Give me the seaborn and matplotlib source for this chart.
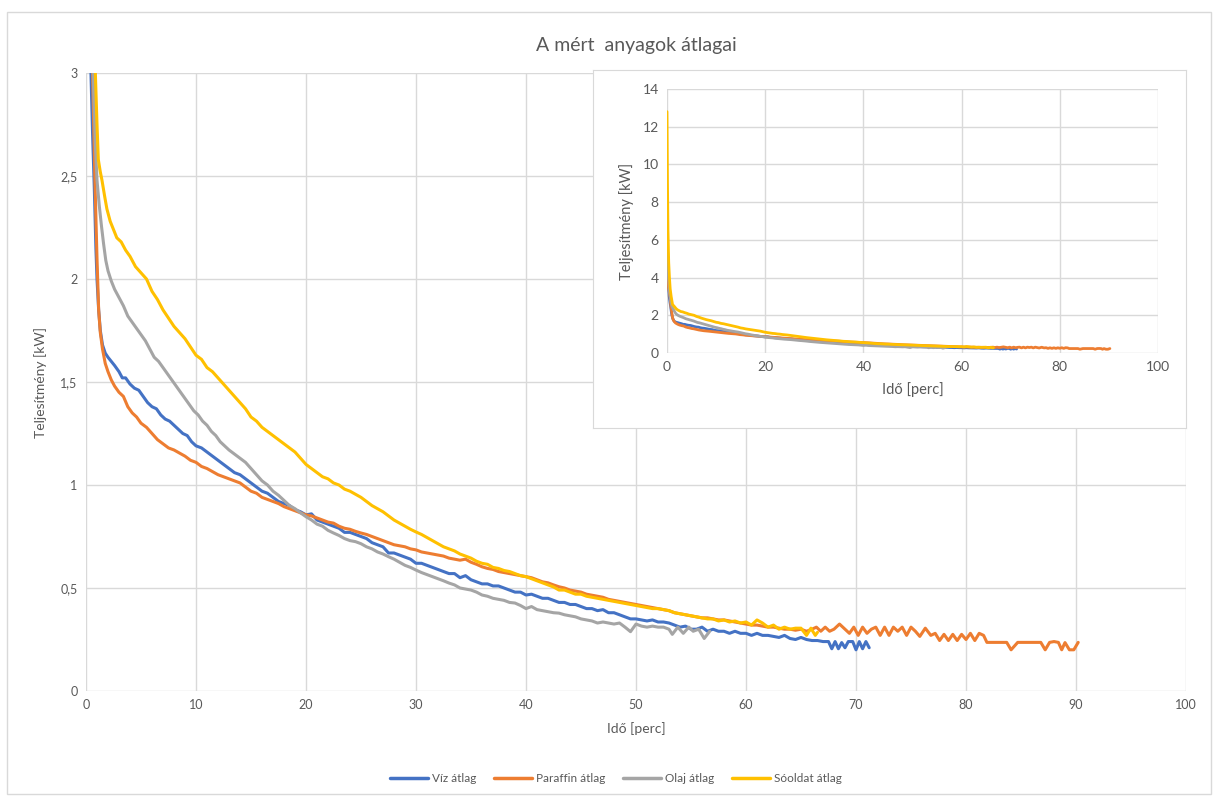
import matplotlib
matplotlib.use("Agg")
import matplotlib.pyplot as plt
import seaborn as sns
import pandas as pd
from matplotlib.lines import Line2D
from matplotlib.patches import Rectangle
from matplotlib.ticker import FuncFormatter

# --- data (time in minutes, power in kW) ---
viz_t = [0, 0.15, 0.3, 0.45, 0.6, 0.75, 0.9, 1.0, 1.15, 1.3, 1.5, 1.75, 2.0, 2.3, 2.6, 3.0, 3.3, 3.6,
         4.0, 4.4, 4.8, 5.2, 5.6, 6.0, 6.4, 6.8, 7.2, 7.6, 8.0, 8.4, 8.8, 9.2, 9.6, 10.0, 10.5, 11.0,
         11.5, 12.0, 12.5, 13.0, 13.5, 14.0, 14.5, 15.0, 15.5, 16.0, 16.5, 17.0, 17.5, 18.0, 18.5,
         19.0, 19.5, 20.0, 20.5, 21.0, 21.5, 22.0, 22.5, 23.0, 23.5, 24.0, 24.5, 25.0, 25.5, 26.0,
         26.5, 27.0, 27.5, 28.0, 28.5, 29.0, 29.5, 30.0, 30.5, 31.0, 31.5, 32.0, 32.5, 33.0, 33.5,
         34.0, 34.5, 35.0, 35.5, 36.0, 36.5, 37.0, 37.5, 38.0, 38.5, 39.0, 39.5, 40.0, 40.5, 41.0,
         41.5, 42.0, 42.5, 43.0, 43.5, 44.0, 44.5, 45.0, 45.5, 46.0, 46.5, 47.0, 47.5, 48.0, 48.5,
         49.0, 49.5, 50.0, 50.5, 51.0, 51.5, 52.0, 52.5, 53.0, 53.5, 54.0, 54.5, 55.0, 55.5, 56.0,
         56.5, 57.0, 57.5, 58.0, 58.5, 59.0, 59.5, 60.0, 60.5, 61.0, 61.5, 62.0, 62.5, 63.0, 63.5,
         64.0, 64.5, 65.0, 65.5, 66.0, 66.5, 67.0, 67.5, 67.8, 68.1, 68.4, 68.7, 69.0, 69.3, 69.7,
         70.0, 70.3, 70.6, 70.9, 71.2]
viz_p = [7.0, 4.6, 3.6, 3.0, 2.7, 2.45, 2.15, 2.0, 1.85, 1.75, 1.68, 1.64, 1.62, 1.60, 1.58, 1.55, 1.52, 1.52,
         1.49, 1.47, 1.46, 1.43, 1.40, 1.38, 1.37, 1.34, 1.32, 1.31, 1.29, 1.27, 1.25, 1.24, 1.21, 1.19, 1.18, 1.16,
         1.14, 1.12, 1.10, 1.08, 1.06, 1.05, 1.03, 1.01, 0.99, 0.97, 0.96, 0.94, 0.92, 0.91, 0.90,
         0.88, 0.87, 0.855, 0.86, 0.83, 0.82, 0.81, 0.80, 0.79, 0.77, 0.77, 0.76, 0.75, 0.74, 0.72,
         0.71, 0.70, 0.67, 0.67, 0.66, 0.65, 0.64, 0.62, 0.62, 0.61, 0.60, 0.59, 0.58, 0.57, 0.57,
         0.55, 0.56, 0.54, 0.53, 0.52, 0.52, 0.51, 0.51, 0.50, 0.49, 0.48, 0.48, 0.466, 0.47, 0.46,
         0.45, 0.45, 0.44, 0.43, 0.43, 0.42, 0.42, 0.41, 0.40, 0.40, 0.39, 0.395, 0.38, 0.38, 0.37,
         0.36, 0.35, 0.35, 0.345, 0.34, 0.345, 0.335, 0.335, 0.33, 0.32, 0.31, 0.315, 0.30, 0.30, 0.31,
         0.29, 0.30, 0.29, 0.29, 0.28, 0.29, 0.28, 0.28, 0.27, 0.28, 0.27, 0.27, 0.265, 0.26, 0.27,
         0.255, 0.25, 0.26, 0.25, 0.245, 0.245, 0.24, 0.24, 0.205, 0.24, 0.205, 0.235, 0.21, 0.24, 0.24,
         0.20, 0.24, 0.205, 0.24, 0.21]

paraffin_t = [0, 0.15, 0.3, 0.6, 0.8, 1.0, 1.15, 1.3, 1.5, 1.75, 2.0, 2.3, 2.6, 3.0, 3.4, 3.8, 4.2, 4.6,
              5.0, 5.5, 6.0, 6.5, 7.0, 7.5, 8.0, 8.5, 9.0, 9.5, 10.0, 10.5, 11.0, 11.5, 12.0, 12.5,
              13.0, 13.5, 14.0, 14.5, 15.0, 15.5, 16.0, 16.5, 17.0, 17.5, 18.0, 18.5, 19.0, 19.5, 20.0,
              20.5, 21.0, 21.5, 22.0, 22.5, 23.0, 23.5, 24.0, 24.5, 25.0, 25.5, 26.0, 26.5, 27.0, 27.5,
              28.0, 28.5, 29.0, 29.5, 30.0, 30.5, 31.0, 31.5, 32.0, 32.5, 33.0, 33.5, 34.0, 34.5, 35.0,
              35.5, 36.0, 36.5, 37.0, 37.5, 38.0, 38.5, 39.0, 39.5, 40.0, 40.5, 41.0, 41.5, 42.0, 42.5,
              43.0, 43.5, 44.0, 44.5, 45.0, 45.5, 46.0, 46.5, 47.0, 47.5, 48.0, 48.5, 49.0, 49.5, 50.0,
              50.5, 51.0, 51.5, 52.0, 52.5, 53.0, 53.5, 54.0, 54.5, 55.0, 55.5, 56.0, 56.5, 57.0, 57.5,
              58.0, 58.5, 59.0, 59.5, 60.0, 60.5, 61.0, 61.5, 62.0, 62.5, 63.0, 63.5, 64.0, 64.5, 65.0,
              65.5, 66.0, 66.4, 66.8, 67.2, 67.6, 68.0, 68.5, 69.0, 69.4, 69.8, 70.2, 70.6, 71.0, 71.4,
              71.8, 72.2, 72.6, 73.0, 73.4, 73.8, 74.2, 74.6, 75.0, 75.4, 75.8, 76.3, 76.8, 77.2, 77.6,
              78.0, 78.4, 78.8, 79.2, 79.6, 80.0, 80.4, 80.8, 81.2, 81.6, 81.9, 82.5, 83.7, 84.1, 84.7,
              86.0, 86.8, 87.2, 87.6, 88.0, 88.4, 88.7, 89.0, 89.4, 89.8, 90.2]
paraffin_p = [6.0, 4.2, 3.5, 3.0, 2.5, 2.1, 1.85, 1.74, 1.66, 1.59, 1.55, 1.51, 1.48, 1.45, 1.43, 1.38, 1.35, 1.33,
              1.30, 1.28, 1.25, 1.22, 1.20, 1.18, 1.17, 1.155, 1.14, 1.12, 1.11, 1.09, 1.08, 1.065, 1.05, 1.04,
              1.03, 1.02, 1.01, 0.99, 0.97, 0.96, 0.94, 0.93, 0.92, 0.91, 0.895, 0.885, 0.875, 0.865, 0.855,
              0.85, 0.84, 0.83, 0.82, 0.815, 0.80, 0.79, 0.785, 0.775, 0.767, 0.76, 0.75, 0.74, 0.73, 0.72,
              0.71, 0.705, 0.70, 0.69, 0.685, 0.675, 0.67, 0.665, 0.66, 0.655, 0.645, 0.64, 0.635, 0.64, 0.625,
              0.615, 0.603, 0.595, 0.59, 0.58, 0.575, 0.57, 0.565, 0.56, 0.555, 0.55, 0.54, 0.53, 0.525, 0.515,
              0.506, 0.50, 0.49, 0.485, 0.48, 0.47, 0.465, 0.46, 0.455, 0.445, 0.44, 0.435, 0.43, 0.425, 0.42,
              0.415, 0.41, 0.405, 0.40, 0.395, 0.39, 0.38, 0.375, 0.37, 0.365, 0.36, 0.355, 0.355, 0.35, 0.345,
              0.345, 0.34, 0.335, 0.33, 0.325, 0.32, 0.32, 0.315, 0.31, 0.31, 0.305, 0.30, 0.30, 0.295, 0.30,
              0.29, 0.30, 0.31, 0.29, 0.31, 0.29, 0.30, 0.325, 0.30, 0.28, 0.31, 0.27, 0.31, 0.28, 0.30,
              0.31, 0.27, 0.31, 0.27, 0.31, 0.29, 0.31, 0.27, 0.31, 0.29, 0.265, 0.305, 0.27, 0.28, 0.245,
              0.275, 0.245, 0.275, 0.245, 0.275, 0.25, 0.28, 0.245, 0.28, 0.27, 0.236, 0.236, 0.236, 0.20, 0.236,
              0.236, 0.236, 0.20, 0.236, 0.24, 0.236, 0.20, 0.235, 0.20, 0.20, 0.236]

olaj_t = [0, 0.15, 0.3, 0.5, 0.7, 0.85, 1.0, 1.2, 1.4, 1.6, 1.8, 2.0, 2.3, 2.6, 3.0, 3.4, 3.8, 4.2, 4.6,
          5.0, 5.4, 5.8, 6.2, 6.6, 7.0, 7.4, 7.8, 8.2, 8.6, 9.0, 9.4, 9.8, 10.2, 10.6, 11.0, 11.4, 11.8,
          12.2, 12.6, 13.0, 13.5, 14.0, 14.5, 15.0, 15.5, 16.0, 16.5, 17.0, 17.5, 18.0, 18.5, 19.0,
          19.5, 20.0, 20.5, 21.0, 21.5, 22.0, 22.5, 23.0, 23.5, 24.0, 24.5, 25.0, 25.5, 26.0, 26.5,
          27.0, 27.5, 28.0, 28.5, 29.0, 29.5, 30.0, 30.5, 31.0, 31.5, 32.0, 32.5, 33.0, 33.5, 34.0,
          34.5, 35.0, 35.5, 36.0, 36.5, 37.0, 37.5, 38.0, 38.5, 39.0, 39.5, 40.0, 40.5, 41.0, 41.5,
          42.0, 42.5, 43.0, 43.5, 44.0, 44.5, 45.0, 45.5, 46.0, 46.5, 47.0, 47.5, 48.0, 48.5, 49.0,
          49.5, 50.0, 50.5, 51.0, 51.5, 52.0, 52.5, 53.0, 53.3, 53.8, 54.3, 54.8, 55.2, 55.7, 56.2, 56.7]
olaj_p = [7.0, 5.0, 4.0, 3.3, 2.9, 2.65, 2.48, 2.36, 2.26, 2.17, 2.09, 2.04, 1.99, 1.95, 1.91, 1.87, 1.82, 1.79, 1.76,
          1.73, 1.70, 1.66, 1.62, 1.60, 1.57, 1.54, 1.51, 1.48, 1.45, 1.42, 1.39, 1.36, 1.34, 1.31, 1.29, 1.26, 1.24,
          1.21, 1.19, 1.17, 1.15, 1.13, 1.11, 1.08, 1.05, 1.02, 1.00, 0.97, 0.95, 0.925, 0.90, 0.885,
          0.865, 0.846, 0.83, 0.81, 0.80, 0.78, 0.767, 0.755, 0.74, 0.73, 0.725, 0.715, 0.70, 0.69, 0.675,
          0.665, 0.652, 0.64, 0.625, 0.61, 0.60, 0.587, 0.575, 0.565, 0.555, 0.545, 0.535, 0.524, 0.515, 0.50,
          0.495, 0.49, 0.48, 0.466, 0.46, 0.45, 0.445, 0.44, 0.43, 0.427, 0.415, 0.40, 0.41, 0.395, 0.39,
          0.385, 0.38, 0.378, 0.37, 0.365, 0.36, 0.35, 0.345, 0.34, 0.33, 0.335, 0.33, 0.325, 0.33, 0.31,
          0.288, 0.325, 0.315, 0.31, 0.315, 0.31, 0.31, 0.30, 0.275, 0.31, 0.28, 0.31, 0.29, 0.30, 0.255, 0.29]

sooldat_t = [0, 0.1, 0.2, 0.35, 0.5, 0.65, 0.85, 1.0, 1.12, 1.3, 1.45, 1.7, 1.9, 2.2, 2.5, 2.8, 3.2, 3.6,
             4.0, 4.5, 5.0, 5.5, 6.0, 6.5, 7.0, 7.5, 8.0, 8.5, 9.0, 9.5, 10.0, 10.5, 11.0, 11.5, 12.0,
             12.5, 13.0, 13.5, 14.0, 14.5, 15.0, 15.5, 16.0, 16.5, 17.0, 17.5, 18.0, 18.5, 19.0, 19.5,
             20.0, 20.5, 21.0, 21.5, 22.0, 22.5, 23.0, 23.5, 24.0, 24.5, 25.0, 25.5, 26.0, 26.5, 27.0,
             27.5, 28.0, 28.5, 29.0, 29.5, 30.0, 30.5, 31.0, 31.5, 32.0, 32.5, 33.0, 33.5, 34.0, 34.5,
             35.0, 35.5, 36.0, 36.5, 37.0, 37.5, 38.0, 38.5, 39.0, 39.5, 40.0, 40.5, 41.0, 41.5, 42.0,
             42.5, 43.0, 43.5, 44.0, 44.5, 45.0, 45.5, 46.0, 46.5, 47.0, 47.5, 48.0, 48.5, 49.0, 49.5,
             50.0, 50.5, 51.0, 51.5, 52.0, 52.5, 53.0, 53.5, 54.0, 54.5, 55.0, 55.5, 56.0, 56.5, 57.0,
             57.5, 58.0, 58.5, 59.0, 59.5, 60.0, 60.5, 61.0, 61.5, 62.0, 62.5, 63.0, 63.5, 64.0, 64.5,
             65.0, 65.5, 65.9, 66.3, 66.5]
sooldat_p = [12.8, 9.0, 6.5, 4.8, 4.0, 3.4, 3.0, 2.75, 2.58, 2.52, 2.48, 2.40, 2.34, 2.28, 2.24, 2.20, 2.18, 2.14,
             2.11, 2.06, 2.03, 2.00, 1.94, 1.90, 1.85, 1.81, 1.77, 1.74, 1.71, 1.67, 1.63, 1.61, 1.57, 1.55, 1.52,
             1.49, 1.46, 1.43, 1.40, 1.37, 1.33, 1.31, 1.28, 1.26, 1.24, 1.22, 1.20, 1.18, 1.16, 1.13,
             1.10, 1.08, 1.06, 1.04, 1.03, 1.01, 1.00, 0.98, 0.97, 0.955, 0.94, 0.92, 0.90, 0.885, 0.87,
             0.85, 0.83, 0.815, 0.80, 0.785, 0.772, 0.76, 0.745, 0.73, 0.715, 0.70, 0.69, 0.68, 0.665, 0.655,
             0.645, 0.63, 0.62, 0.615, 0.60, 0.595, 0.585, 0.58, 0.57, 0.56, 0.555, 0.545, 0.535, 0.525, 0.515,
             0.505, 0.49, 0.49, 0.48, 0.47, 0.47, 0.46, 0.455, 0.45, 0.445, 0.44, 0.435, 0.43, 0.425, 0.42,
             0.415, 0.41, 0.405, 0.40, 0.40, 0.395, 0.39, 0.38, 0.375, 0.37, 0.365, 0.36, 0.355, 0.35, 0.35,
             0.34, 0.345, 0.335, 0.34, 0.33, 0.335, 0.32, 0.345, 0.33, 0.31, 0.32, 0.30, 0.31, 0.30, 0.305,
             0.305, 0.27, 0.305, 0.27, 0.285]

series_names = ["Víz átlag", "Paraffin átlag", "Olaj átlag", "Sóoldat átlag"]
colors = ["#4472C4", "#ED7D31", "#A5A5A5", "#FFC000"]
x_ticks_main = [0, 10, 20, 30, 40, 50, 60, 70, 80, 90, 100]
y_ticks_main = [0, 0.5, 1, 1.5, 2, 2.5, 3]
x_ticks_inset = [0, 20, 40, 60, 80, 100]
y_ticks_inset = [0, 2, 4, 6, 8, 10, 12, 14]

frames = []
for name, t, p in zip(series_names, [viz_t, paraffin_t, olaj_t, sooldat_t],
                      [viz_p, paraffin_p, olaj_p, sooldat_p]):
    frames.append(pd.DataFrame({"ido": t, "telj": p, "sorozat": name}))
df = pd.concat(frames, ignore_index=True)

sns.set_style("white")
plt.rcParams["font.family"] = ["Lato", "DejaVu Sans"]
TXT = "#595959"
GRID = "#D9D9D9"

fig = plt.figure(figsize=(12.13, 7.96), dpi=100)
fig.patches.append(Rectangle((0.006, 0.003), 0.992, 0.982, transform=fig.transFigure,
                             fill=False, edgecolor=GRID, lw=1))

comma = FuncFormatter(lambda v, pos: f"{v:g}".replace(".", ","))


def style_axes(ax, xt, yt, fs):
    ax.set_xticks(xt)
    ax.set_yticks(yt)
    ax.yaxis.set_major_formatter(comma)
    ax.grid(True, color=GRID, lw=1)
    ax.set_axisbelow(True)
    for s in ax.spines.values():
        s.set_visible(False)
    ax.tick_params(length=0, labelsize=fs, labelcolor=TXT, pad=6)


# main chart
ax = fig.add_axes([86 / 1213, 1 - 691 / 796, 1100 / 1213, 618 / 796])
sns.lineplot(data=df, x="ido", y="telj", hue="sorozat", hue_order=series_names,
             palette=colors, estimator=None, sort=False, lw=2.2, ax=ax, legend=False)
ax.set_xlim(0, 100)
ax.set_ylim(0, 3)
style_axes(ax, x_ticks_main, y_ticks_main, 9)
ax.set_xlabel("Idő [perc]", fontsize=10, color=TXT, labelpad=8)
ax.set_ylabel("Teljesítmény [kW]", fontsize=10, color=TXT, labelpad=10)
ax.set_title("A mért  anyagok átlagai", fontsize=14, color=TXT, pad=16)

# inset frame
frame = fig.add_axes([593 / 1213, 1 - 428 / 796, 593 / 1213, 358 / 796])
frame.set_facecolor("white")
frame.set_xticks([])
frame.set_yticks([])
for s in frame.spines.values():
    s.set_color(GRID)

# inset chart
ins = fig.add_axes([667 / 1213, 1 - 353 / 796, 491 / 1213, 264 / 796])
sns.lineplot(data=df, x="ido", y="telj", hue="sorozat", hue_order=series_names,
             palette=colors, estimator=None, sort=False, lw=2.0, ax=ins, legend=False)
ins.set_xlim(0, 100)
ins.set_ylim(0, 14)
style_axes(ins, x_ticks_inset, y_ticks_inset, 10)
ins.set_xlabel("Idő [perc]", fontsize=10.5, color=TXT, labelpad=6)
ins.set_ylabel("Teljesítmény [kW]", fontsize=10.5, color=TXT, labelpad=6)

handles = [Line2D([], [], color=c, lw=2.5) for c in colors]
leg = fig.legend(handles, series_names, loc="center", bbox_to_anchor=(0.508, 1 - 779 / 796),
                 ncol=4, frameon=False, fontsize=8.5, handlelength=3.2, columnspacing=1.5,
                 handletextpad=0.35)
for txt in leg.get_texts():
    txt.set_color(TXT)

fig.savefig("out.png", dpi=100, facecolor="white")
